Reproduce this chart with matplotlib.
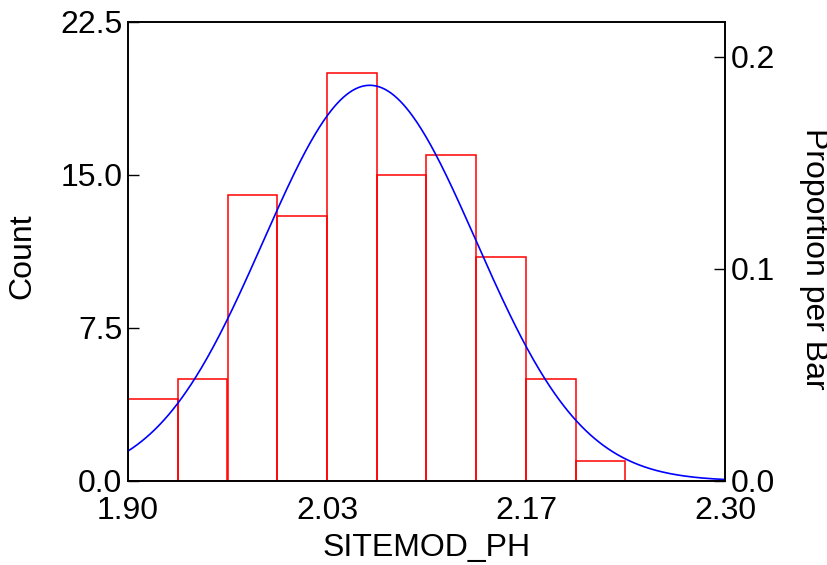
import numpy as np
import matplotlib
matplotlib.use("Agg")
import matplotlib.pyplot as plt

plt.rcParams['font.family'] = ['Liberation Sans', 'DejaVu Sans']

# Data
bin_edges = np.linspace(1.90, 2.30, 13)
counts = [4, 5, 14, 13, 20, 15, 16, 11, 5, 1, 0, 0]
n_total = sum(counts)
fit_mean = 2.062
fit_sd = 0.0713
x_ticks = [1.90, 2.0333, 2.1667, 2.30]
x_tick_labels = ["1.90", "2.03", "2.17", "2.30"]
y_ticks = [0.0, 7.5, 15.0, 22.5]
prop_ticks = [0.0, 0.1, 0.2]

FS = 23
fig = plt.figure(figsize=(8.28, 5.65), dpi=100)
ax = fig.add_axes([128/828, 1-481/565, (725-128)/828, (481-22)/565])

bw = bin_edges[1] - bin_edges[0]
ax.bar(bin_edges[:-1], counts, width=bw, align='edge', fill=False,
       edgecolor='#ff0000', linewidth=1.1, zorder=2)

xs = np.linspace(1.90, 2.30, 400)
pdf = n_total * bw / (fit_sd * np.sqrt(2*np.pi)) * np.exp(-0.5*((xs-fit_mean)/fit_sd)**2)
ax.plot(xs, pdf, color='#0000ff', linewidth=1.2, zorder=3)

ax.set_xlim(1.90, 2.30)
ax.set_ylim(0, 22.5)
ax.set_xticks(x_ticks)
ax.set_xticklabels(x_tick_labels)
ax.set_yticks(y_ticks)
ax.set_yticklabels([f"{v:.1f}" for v in y_ticks])
ax.tick_params(direction='in', length=8, width=1, labelsize=FS, pad=4)
ax.tick_params(axis='x', length=0, pad=11)
for s in ax.spines.values():
    s.set_linewidth(1.2)
ax.set_xlabel("SITEMOD_PH", fontsize=FS, labelpad=5)
ax.set_ylabel("Count", fontsize=FS)
ax.yaxis.label.set_rotation_mode('default')
ax.yaxis.label.set_va('center')
ax.yaxis.set_label_coords((22-128)/597, 0.49)

ax2 = ax.twinx()
ax2.set_ylim(0, 22.5/n_total)
ax2.set_yticks(prop_ticks)
ax2.set_yticklabels([f"{v:.1f}" for v in prop_ticks])
ax2.tick_params(direction='in', length=8, width=1, labelsize=FS, pad=4)
for s in ax2.spines.values():
    s.set_linewidth(1.2)
ax2.set_ylabel("Proportion per Bar", fontsize=FS, rotation=-90)
ax2.yaxis.label.set_rotation_mode('default')
ax2.yaxis.label.set_va('center')
ax2.yaxis.set_label_coords((814-128)/597, 0.485)

fig.savefig("out.png", dpi=100)
